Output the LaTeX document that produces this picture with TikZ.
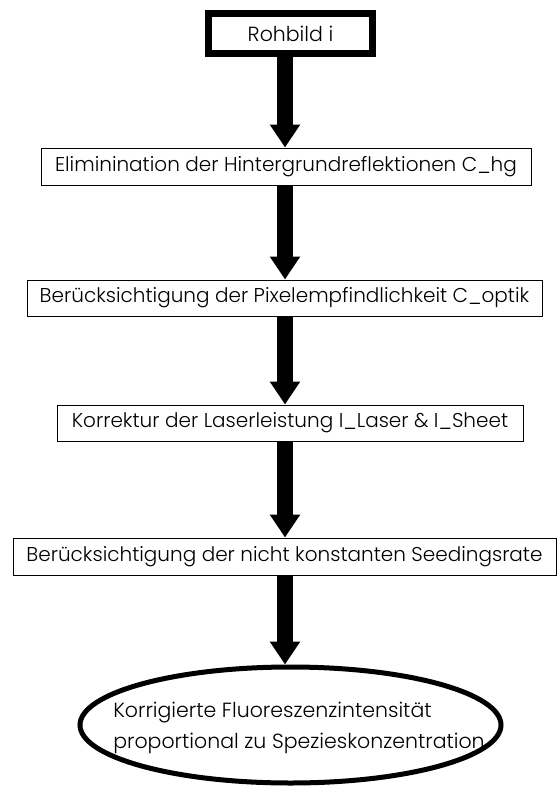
\documentclass[tikz,border=0pt]{standalone}
\usepackage{fontspec}
\setmainfont{Poppins Light}
\usetikzlibrary{arrows.meta,shapes.geometric}
\begin{document}
\begin{tikzpicture}[x=1pt,y=-1pt,
  stepbox/.style={draw=black,line width=1pt,inner sep=0pt,font=\fontsize{20}{24}\selectfont},
  flow/.style={line width=16pt,-{Triangle[width=29pt,length=23pt]}}]
\useasboundingbox (0,0) rectangle (557,787);
\fill[white] (0,0) rectangle (557,787);
\node[draw=black,line width=7pt,minimum width=164pt,minimum height=40pt,inner sep=0pt,font=\fontsize{20.5}{24}\selectfont] (r) at (290.5,33.5) {Rohbild i};
\node[stepbox,minimum width=490pt,minimum height=37pt] (b1) at (286,166.5) {Eliminination der Hintergrundreflektionen C\_hg};
\node[stepbox,minimum width=515pt,minimum height=36pt] (b2) at (284.5,298) {Berücksichtigung der Pixelempfindlichkeit C\_optik};
\node[stepbox,minimum width=466pt,minimum height=36pt] (b3) at (290,423) {Korrektur der Laserleistung I\_Laser \& I\_Sheet};
\node[stepbox,minimum width=543pt,minimum height=37pt] (b4) at (284.5,556.5) {Berücksichtigung der nicht konstanten Seedingsrate};
\node[ellipse,draw=black,line width=5pt,minimum width=421pt,minimum height=116pt,inner sep=0pt] (e) at (290.5,725) {};
\node[align=left,inner sep=0pt,font=\fontsize{20.5}{31}\selectfont] (et) at (299,728) {Korrigierte Fluoreszenzintensität\\proportional zu Spezieskonzentration};
\coordinate (ax) at (285,0);
\draw[flow] (r.south -| ax) -- (b1.north -| ax);
\draw[flow] (b1.south -| ax) -- (b2.north -| ax);
\draw[flow] (b2.south -| ax) -- (b3.north -| ax);
\draw[flow] (b3.south -| ax) -- (b4.north -| ax);
\draw[flow] (b4.south -| ax) -- (e.north -| ax);
\end{tikzpicture}
\end{document}
